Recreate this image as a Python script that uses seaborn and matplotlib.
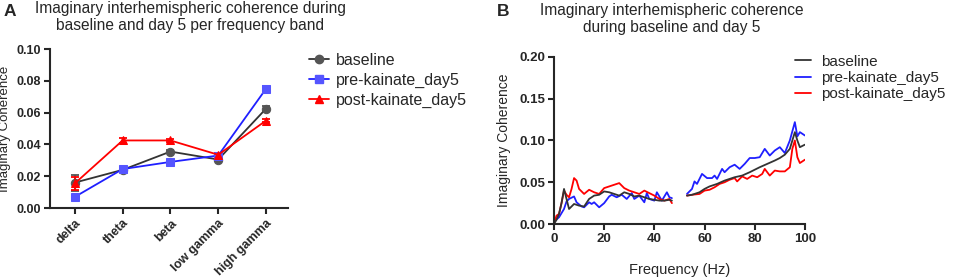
import numpy as np
import pandas as pd
import matplotlib
matplotlib.use("Agg")
import matplotlib.pyplot as plt
import seaborn as sns
from matplotlib.lines import Line2D

sns.set_style("ticks")
plt.rcParams['font.family'] = ['Liberation Sans', 'DejaVu Sans']

# ---------------- Panel A data ----------------
bands = ["delta", "theta", "beta", "low gamma", "high gamma"]
series_names = ["baseline", "pre-kainate_day5", "post-kainate_day5"]
baseline_band = [0.016, 0.024, 0.0355, 0.0305, 0.0625]
baseline_err = [0.005, 0.001, 0.0008, 0.0008, 0.0015]
pre_band = [0.007, 0.0245, 0.029, 0.033, 0.075]
pre_err = [0.0008, 0.0008, 0.0008, 0.0008, 0.0015]
post_band = [0.0155, 0.0425, 0.0425, 0.0335, 0.055]
post_err = [0.004, 0.0015, 0.0008, 0.0008, 0.0012]

# ---------------- Panel B data (NaN marks the gap around 50 Hz) ----------------
base_freq = [0, 1, 2, 3, 4, 5, 6, 8, 10, 12, 14, 16, 18, 20, 22, 24, 26, 28, 30, 32, 34, 36, 38, 40, 42, 44, 46, 47,
             50,
             53, 55, 58, 60, 62, 65, 68, 70, 72, 75, 78, 80, 82, 85, 88, 90, 92, 94, 95, 96, 97, 98, 100]
base_coh = [0.0, 0.005, 0.012, 0.025, 0.042, 0.03, 0.018, 0.024, 0.022, 0.021, 0.03, 0.034, 0.035, 0.039, 0.038, 0.036,
            0.034, 0.038, 0.036, 0.033, 0.034, 0.032, 0.03, 0.029, 0.028, 0.028, 0.029, 0.028,
            np.nan,
            0.034, 0.035, 0.038, 0.042, 0.045, 0.048, 0.052, 0.054, 0.056, 0.058, 0.062, 0.065, 0.068, 0.072, 0.076,
            0.079, 0.083, 0.09, 0.1, 0.11, 0.1, 0.092, 0.095]

pre_freq = [0, 2, 4, 5, 6, 8, 9, 11, 12, 14, 15, 16, 18, 20, 22, 23, 25, 27, 29, 31, 32, 34, 36, 37, 38, 40, 41, 43,
            45, 46, 47,
            50,
            53, 55, 56, 57, 59, 61, 63, 64, 65, 67, 68, 70, 72, 74, 76, 78, 80, 82, 84, 86, 88, 90, 92, 94, 96, 97,
            98, 99, 100]
pre_coh = [0.003, 0.008, 0.018, 0.027, 0.03, 0.033, 0.026, 0.021, 0.02, 0.026, 0.024, 0.026, 0.02, 0.025, 0.033,
           0.035, 0.032, 0.035, 0.03, 0.037, 0.03, 0.034, 0.026, 0.037, 0.03, 0.028, 0.038, 0.028, 0.038, 0.032, 0.031,
           np.nan,
           0.036, 0.042, 0.051, 0.048, 0.06, 0.055, 0.055, 0.058, 0.054, 0.066, 0.062, 0.068, 0.071, 0.066, 0.072,
           0.079, 0.079, 0.08, 0.09, 0.082, 0.088, 0.092, 0.085, 0.1, 0.122, 0.105, 0.11, 0.108, 0.106]

post_freq = [0, 1, 2, 3, 4, 5, 6, 7, 8, 9, 10, 12, 14, 16, 18, 20, 22, 24, 26, 28, 30, 32, 34, 36, 38, 40, 42, 44, 46,
             47,
             50,
             53, 55, 58, 60, 62, 64, 66, 68, 70, 72, 73, 75, 77, 79, 81, 83, 84, 86, 88, 90, 92, 94, 95, 96, 97, 98,
             100]
post_coh = [0.0, 0.01, 0.012, 0.025, 0.04, 0.035, 0.032, 0.042, 0.055, 0.052, 0.042, 0.036, 0.041, 0.038, 0.036,
            0.043, 0.045, 0.047, 0.049, 0.043, 0.04, 0.038, 0.036, 0.04, 0.037, 0.034, 0.03, 0.028, 0.03, 0.025,
            np.nan,
            0.034, 0.035, 0.036, 0.04, 0.041, 0.044, 0.048, 0.05, 0.053, 0.055, 0.051, 0.057, 0.054, 0.058, 0.056,
            0.06, 0.066, 0.058, 0.064, 0.063, 0.063, 0.068, 0.09, 0.1, 0.08, 0.073, 0.077]

colors_line = ["#333333", "#1f1fff", "#ff0000"]
colors_marker = ["#555555", "#5555ff", "#ff0000"]
markers = ["o", "s", "^"]

fig = plt.figure(figsize=(9.54, 2.77), dpi=100)
axA = fig.add_axes([0.0524, 0.249, 0.2495, 0.574])
axB = fig.add_axes([0.5807, 0.1913, 0.263, 0.603])

# ---------------- Panel A ----------------
x_pos = np.arange(len(bands))
dfA = pd.concat([
    pd.DataFrame({"pos": x_pos, "value": vals, "series": name})
    for name, vals in zip(series_names, [baseline_band, pre_band, post_band])
])
sns.lineplot(data=dfA, x="pos", y="value", hue="series", style="series",
             palette=dict(zip(series_names, colors_line)),
             markers=dict(zip(series_names, markers)), dashes=False,
             markersize=6, linewidth=1.3, ax=axA, legend=False, zorder=3)
for line, mc in zip(axA.get_lines(), colors_marker):
    line.set_markerfacecolor(mc)
    line.set_markeredgecolor(mc)
for vals, errs, c in zip([baseline_band, pre_band, post_band], [baseline_err, pre_err, post_err], colors_marker):
    axA.errorbar(x_pos, vals, yerr=errs, fmt="none", ecolor=c, elinewidth=1.3, capsize=3, capthick=1.3, zorder=2)

axA.set_xlim(-0.52, 4.46)
axA.set_ylim(0, 0.10)
axA.set_yticks([0, 0.02, 0.04, 0.06, 0.08, 0.10])
axA.set_yticklabels(["0.00", "0.02", "0.04", "0.06", "0.08", "0.10"])
axA.set_xticks(x_pos)
axA.set_xticklabels(bands, rotation=45, ha="right", rotation_mode="anchor")
axA.set_xlabel("")
axA.set_ylabel("Imaginary Coherence", fontsize=9.5, labelpad=4)
for lab in axA.get_xticklabels() + axA.get_yticklabels():
    lab.set_fontweight("bold")
    lab.set_fontsize(9)
axA.set_title("Imaginary interhemispheric coherence during\nbaseline and day 5 per frequency band",
              fontsize=11.2, pad=14, x=0.59, linespacing=1.15)

handlesA = [Line2D([0], [0], color=cl, marker=m, markerfacecolor=cm, markeredgecolor=cm, markersize=6, lw=1.3)
            for cl, cm, m in zip(colors_line, colors_marker, markers)]
axA.legend(handlesA, series_names, loc="upper left", bbox_to_anchor=(1.06, 1.015), frameon=False,
           fontsize=11.5, handlelength=1.3, handletextpad=0.4, labelspacing=0.3, borderaxespad=0)

# ---------------- Panel B ----------------
frames = []
for name, f, v in zip(series_names, [base_freq, pre_freq, post_freq], [base_coh, pre_coh, post_coh]):
    d = pd.DataFrame({"freq": f, "coh": v, "series": name})
    d["segment"] = d["coh"].isna().cumsum()
    frames.append(d.dropna())
dfB = pd.concat(frames)
order = [series_names[1], series_names[2], series_names[0]]
for name in order:
    sub = dfB[dfB["series"] == name]
    c = colors_line[series_names.index(name)]
    sns.lineplot(data=sub, x="freq", y="coh", units="segment", estimator=None, color=c, lw=1.3,
                 ax=axB, legend=False)

axB.set_xlim(0, 100)
axB.set_ylim(0, 0.20)
axB.set_xticks([0, 20, 40, 60, 80, 100])
axB.set_yticks([0, 0.05, 0.10, 0.15, 0.20])
axB.set_yticklabels(["0.00", "0.05", "0.10", "0.15", "0.20"])
axB.set_xlabel("Frequency (Hz)", fontsize=10.5, labelpad=13)
axB.set_ylabel("Imaginary Coherence", fontsize=10, labelpad=6)
for lab in axB.get_xticklabels() + axB.get_yticklabels():
    lab.set_fontweight("bold")
    lab.set_fontsize(9.5)
axB.set_title("Imaginary interhemispheric coherence\nduring baseline and day 5",
              fontsize=11.2, pad=18, x=0.47, linespacing=1.15)
handlesB = [Line2D([0], [0], color=c, lw=1.3) for c in colors_line]
axB.legend(handlesB, series_names, loc="upper left", bbox_to_anchor=(0.935, 1.05), frameon=False,
           fontsize=11, handlelength=1.1, handletextpad=0.6, labelspacing=0.15, borderaxespad=0)

for ax in (axA, axB):
    sns.despine(ax=ax)
    for sp in ("left", "bottom"):
        ax.spines[sp].set_linewidth(1.5)
    ax.tick_params(width=1.5, length=4.5, pad=2)

fig.text(0.004, 0.985, "A", fontsize=12.5, fontweight="bold", va="top")
fig.text(0.521, 0.985, "B", fontsize=12.5, fontweight="bold", va="top")

fig.savefig("out.png", dpi=100)
